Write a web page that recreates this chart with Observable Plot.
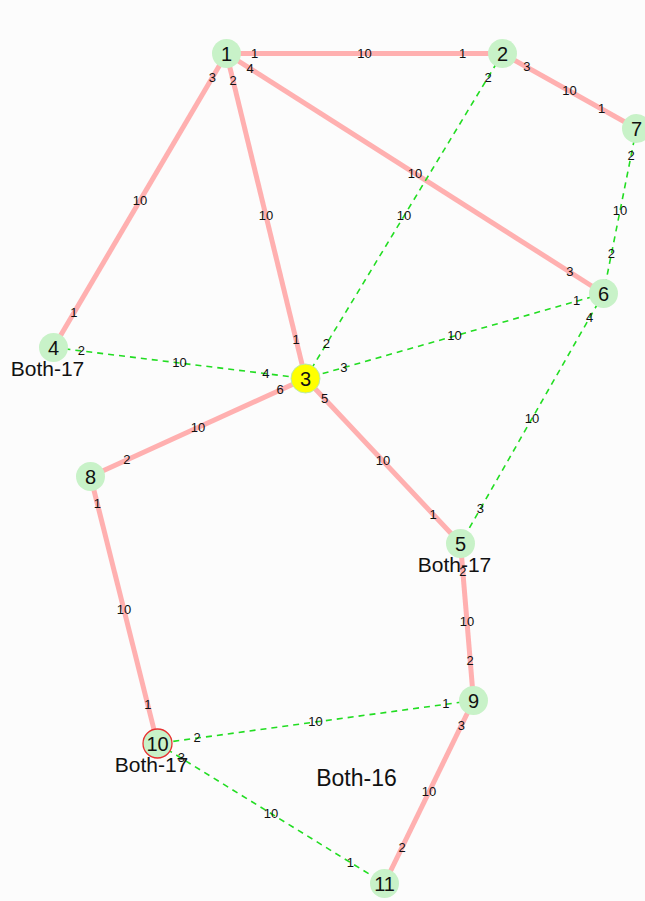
<!DOCTYPE html>
<html>
<head>
<meta charset="utf-8">
<script src="https://cdn.jsdelivr.net/npm/d3@7"></script>
<script src="https://cdn.jsdelivr.net/npm/@observablehq/plot@0.6"></script>
<style>
  html, body { margin: 0; padding: 0; background: #fcfcfc; }
  #chart svg { display: block; }
</style>
</head>
<body>
<div id="chart"></div>
<script>
// ---- Data (graph layout) ----
const nodeIds   = ["1", "2", "3", "4", "5", "6", "7", "8", "9", "10", "11"];
const nodeX     = [226, 502, 305, 53, 460, 603, 636, 90, 473, 157, 384];
const nodeY     = [53, 53, 378, 347, 543, 293, 128, 476, 700, 743, 883];
const nodeKind  = ["plain", "plain", "current", "plain", "plain", "plain", "plain", "plain", "plain", "marked", "plain"];

const solidSource       = ["1", "2", "1", "1", "1", "3", "3", "8", "5", "9"];
const solidTarget       = ["2", "7", "4", "3", "6", "8", "5", "10", "9", "11"];
const solidSourceWeight = ["1", "3", "3", "2", "4", "6", "5", "1", "2", "3"];
const solidTargetWeight = ["1", "1", "1", "1", "3", "2", "1", "1", "2", "2"];
const solidMidWeight    = ["10", "10", "10", "10", "10", "10", "10", "10", "10", "10"];

const dashedSource       = ["2", "6", "4", "7", "6", "9", "10"];
const dashedTarget       = ["3", "3", "3", "6", "5", "10", "11"];
const dashedSourceWeight = ["2", "1", "2", "2", "4", "1", "3"];
const dashedTargetWeight = ["2", "3", "4", "2", "3", "2", "1"];
const dashedMidWeight    = ["10", "10", "10", "10", "10", "10", "10"];

const noteNode = ["4", "5", "10"];
const noteText = ["Both-17", "Both-17", "Both-17"];
const freeNoteText = ["Both-16"];
const freeNoteX = [356];
const freeNoteY = [778];

// ---- Build tables ----
const nodes = nodeIds.map((id, i) => ({id, x: nodeX[i], y: nodeY[i], kind: nodeKind[i]}));
const byId = new Map(nodes.map(d => [d.id, d]));

function edges(src, tgt, sw, tw, mw, style) {
  return src.map((s, i) => ({
    a: byId.get(s), b: byId.get(tgt[i]),
    sw: sw[i], tw: tw[i], mw: mw[i], style
  }));
}
const solid = edges(solidSource, solidTarget, solidSourceWeight, solidTargetWeight, solidMidWeight, "solid");
const dashed = edges(dashedSource, dashedTarget, dashedSourceWeight, dashedTargetWeight, dashedMidWeight, "dashed");
const allEdges = solid.concat(dashed);

// edge weight labels: near source, near target, middle
const SRC_OFF = 28, TGT_OFF = 40;
const edgeLabels = [];
for (const e of allEdges) {
  const dx = e.b.x - e.a.x, dy = e.b.y - e.a.y;
  const L = Math.hypot(dx, dy);
  const ux = dx / L, uy = dy / L;
  edgeLabels.push({x: e.a.x + ux * SRC_OFF, y: e.a.y + uy * SRC_OFF, t: e.sw});
  edgeLabels.push({x: e.b.x - ux * TGT_OFF, y: e.b.y - uy * TGT_OFF, t: e.tw});
  edgeLabels.push({x: (e.a.x + e.b.x) / 2, y: (e.a.y + e.b.y) / 2, t: e.mw});
}

const notes = noteNode.map((n, i) => ({x: byId.get(n).x, y: byId.get(n).y, t: noteText[i]}));
const freeNotes = freeNoteText.map((t, i) => ({x: freeNoteX[i], y: freeNoteY[i], t}));

const W = 645, H = 901;
const font = "'Liberation Sans', Arial, sans-serif";

const chart = Plot.plot({
  width: W,
  height: H,
  margin: 0,
  x: {domain: [0, W], range: [0, W], axis: null},
  y: {domain: [0, H], range: [0, H], axis: null},
  style: {background: "#fcfcfc", fontFamily: font},
  marks: [
    Plot.link(solid, {
      x1: d => d.a.x, y1: d => d.a.y, x2: d => d.b.x, y2: d => d.b.y,
      stroke: "#ffb0b0", strokeWidth: 5, strokeLinecap: "butt"
    }),
    Plot.link(dashed, {
      x1: d => d.a.x, y1: d => d.a.y, x2: d => d.b.x, y2: d => d.b.y,
      stroke: "#22dd22", strokeWidth: 1.6, strokeDasharray: "6,5"
    }),
    Plot.dot(nodes, {
      x: "x", y: "y", r: 14.5,
      fill: d => d.kind === "current" ? "#ffff00" : "#c8f2c8",
      stroke: d => d.kind === "marked" ? "#e83030" : d.kind === "current" ? "#b8eab0" : "none",
      strokeWidth: d => d.kind === "marked" ? 1.3 : 1
    }),
    Plot.text(edgeLabels, {
      x: "x", y: "y", text: "t", fontSize: 13, fill: "#111"
    }),
    Plot.text(nodes, {
      x: "x", y: "y", text: "id", fontSize: 20, fill: "#111", dy: 1
    }),
    Plot.text(notes, {
      x: "x", y: "y", text: "t", fontSize: 21, fill: "#111", dx: -6, dy: 22
    }),
    Plot.text(freeNotes, {
      x: "x", y: "y", text: "t", fontSize: 23, fill: "#111"
    })
  ]
});

document.getElementById("chart").appendChild(chart);
</script>
</body>
</html>
